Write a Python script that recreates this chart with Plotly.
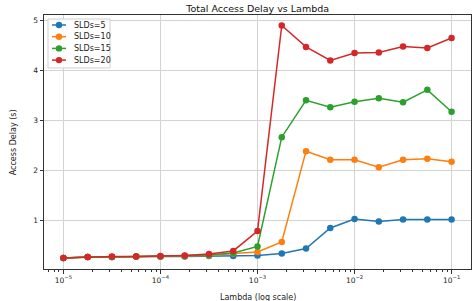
import plotly.graph_objects as go

lambdas = [1e-5, 1.778e-5, 3.162e-5, 5.623e-5, 1e-4, 1.778e-4, 3.162e-4, 5.623e-4,
           1e-3, 1.778e-3, 3.162e-3, 5.623e-3, 1e-2, 1.778e-2, 3.162e-2, 5.623e-2, 1e-1]

slds5 = [0.24, 0.26, 0.26, 0.27, 0.27, 0.27, 0.28, 0.28,
         0.29, 0.33, 0.43, 0.84, 1.02, 0.97, 1.01, 1.01, 1.01]
slds10 = [0.24, 0.26, 0.26, 0.27, 0.27, 0.28, 0.29, 0.33,
          0.36, 0.56, 2.38, 2.21, 2.21, 2.06, 2.21, 2.23, 2.17]
slds15 = [0.24, 0.26, 0.26, 0.27, 0.27, 0.28, 0.30, 0.34,
          0.47, 2.66, 3.40, 3.26, 3.37, 3.44, 3.36, 3.61, 3.17]
slds20 = [0.24, 0.26, 0.27, 0.27, 0.28, 0.29, 0.32, 0.38,
          0.78, 4.90, 4.47, 4.20, 4.35, 4.36, 4.48, 4.45, 4.65]

series_names = ["SLDs=5", "SLDs=10", "SLDs=15", "SLDs=20"]
series_values = [slds5, slds10, slds15, slds20]
colors = ["#1f77b4", "#ff7f0e", "#2ca02c", "#d62728"]

xtick_vals = [1e-5, 1e-4, 1e-3, 1e-2, 1e-1]
xtick_text = ["10<sup>−5</sup>", "10<sup>−4</sup>", "10<sup>−3</sup>", "10<sup>−2</sup>", "10<sup>−1</sup>"]
ytick_vals = [1, 2, 3, 4, 5]

minor_vals = [m * 10 ** e for e in range(-6, 0) for m in range(2, 10)]

W, H = 474, 301
ML, MR, MT, MB = 44, 3, 15, 32
PW, PH = W - ML - MR, H - MT - MB


def px_x(x):
    return (x - ML) / PW


def px_y(y):
    return (H - MB - y) / PH


fig = go.Figure()
for name, vals, c in zip(series_names, series_values, colors):
    fig.add_trace(go.Scatter(
        x=lambdas, y=vals, name=name, mode="lines+markers",
        line=dict(color=c, width=1.5),
        marker=dict(color=c, size=6.5),
        showlegend=False,
    ))

# custom compact legend (matplotlib-like)
shapes = [dict(type="rect", xref="paper", yref="paper",
               x0=px_x(48), x1=px_x(110), y0=px_y(68), y1=px_y(19),
               fillcolor="rgba(255,255,255,0.85)", line=dict(color="#d0d0d0", width=1),
               layer="above")]
annotations = []
for i, (name, c) in enumerate(zip(series_names, colors)):
    yc = 25 + i * 11.7
    shapes.append(dict(type="line", xref="paper", yref="paper",
                       x0=px_x(52), x1=px_x(66), y0=px_y(yc), y1=px_y(yc),
                       line=dict(color=c, width=1.5), layer="above"))
    shapes.append(dict(type="circle", xref="paper", yref="paper",
                       xsizemode="pixel", ysizemode="pixel",
                       xanchor=px_x(59), yanchor=px_y(yc),
                       x0=-3.2, x1=3.2, y0=-3.2, y1=3.2,
                       fillcolor=c, line=dict(color=c, width=0), layer="above"))
    annotations.append(dict(text=name, xref="paper", yref="paper", x=px_x(72), y=px_y(yc),
                            xanchor="left", yanchor="middle", showarrow=False,
                            font=dict(size=8, color="#222")))

annotations += [
    dict(text="Lambda (log scale)", xref="paper", yref="paper", x=0.5, y=-0.085,
         xanchor="center", yanchor="top", showarrow=False, font=dict(size=8)),
    dict(text="Access Delay (s)", xref="paper", yref="paper", x=-0.072, y=0.5,
         xanchor="center", yanchor="middle", textangle=-90, showarrow=False,
         font=dict(size=8)),
]

font_family = "DejaVu Sans"
fig.update_layout(
    width=W, height=H,
    margin=dict(l=ML, r=MR, t=MT, b=MB, autoexpand=False),
    paper_bgcolor="white", plot_bgcolor="white",
    font=dict(family=font_family, size=8, color="#222"),
    title=dict(text="Total Access Delay vs Lambda", x=0.5435, xanchor="center",
               y=0.972, yanchor="middle", font=dict(size=9.5, color="#111")),
    showlegend=False,
    shapes=shapes,
    annotations=annotations,
)
fig.update_xaxes(
    type="log", range=[-5.2, -0.8], automargin=False,
    tickvals=xtick_vals, ticktext=xtick_text,
    ticks="outside", ticklen=3.5, tickcolor="#333", tickwidth=0.8,
    showgrid=True, gridcolor="#d3d3d3", gridwidth=0.8,
    showline=True, linecolor="#333", linewidth=1, mirror=True,
    zeroline=False,
    minor=dict(tickvals=minor_vals, ticks="outside", ticklen=2, tickcolor="#333", showgrid=False),
    tickfont=dict(size=7.5),
)
fig.update_yaxes(
    range=[0.018, 5.11], automargin=False,
    tickvals=ytick_vals,
    ticks="outside", ticklen=3.5, tickcolor="#333", tickwidth=0.8,
    showgrid=True, gridcolor="#d3d3d3", gridwidth=0.8,
    showline=True, linecolor="#333", linewidth=1, mirror=True,
    zeroline=False,
    tickfont=dict(size=7.5),
)

fig.write_html("out.html", config={"displayModeBar": False},
               post_script="document.body.style.margin='0';document.body.style.overflow='hidden';")
